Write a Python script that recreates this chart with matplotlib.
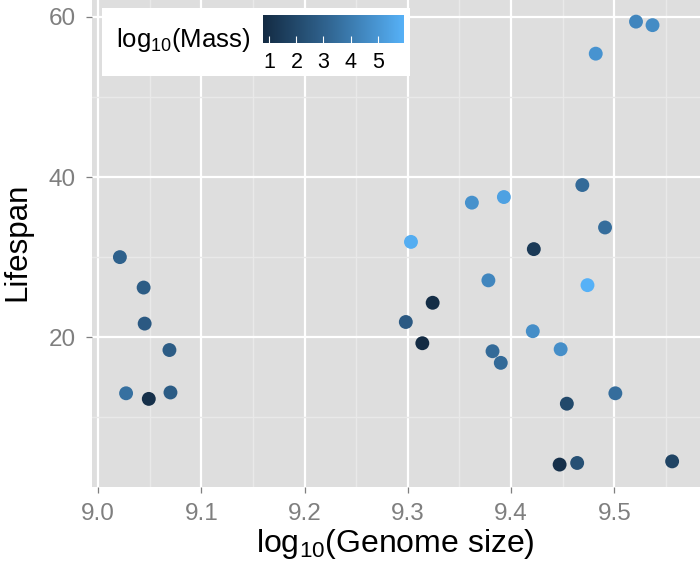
import numpy as np
import matplotlib
matplotlib.use("Agg")
from matplotlib import pyplot as plt
from matplotlib.colors import LinearSegmentedColormap, Normalize
from matplotlib.patches import Rectangle

# values
genome_size = [9.021, 9.044, 9.045, 9.069, 9.027, 9.049, 9.070,
               9.469, 9.362, 9.393, 9.491, 9.303, 9.422, 9.378, 9.474,
               9.324, 9.298, 9.421, 9.314, 9.382, 9.448, 9.390, 9.501,
               9.454, 9.447, 9.464, 9.556, 9.521, 9.537, 9.482]
lifespan = [30.0, 26.2, 21.7, 18.4, 13.0, 12.3, 13.1,
            39.0, 36.8, 37.5, 33.7, 31.9, 31.0, 27.1, 26.5,
            24.3, 21.9, 20.75, 19.25, 18.25, 18.5, 16.8, 13.0,
            11.7, 4.1, 4.3, 4.5, 59.4, 58.96, 55.4]
log_mass = [3.0, 2.8, 2.7, 2.8, 3.6, 1.0, 2.8,
            3.4, 4.8, 5.4, 3.5, 5.8, 1.4, 4.4, 5.98,
            0.9, 2.7, 4.7, 0.78, 3.4, 4.7, 3.4, 3.5,
            2.0, 1.0, 2.3, 1.8, 4.4, 4.6, 4.9]
mass_ticks = [1, 2, 3, 4, 5]
x_ticks = [9.0, 9.1, 9.2, 9.3, 9.4, 9.5]
y_ticks = [20, 40, 60]

plt.rcParams['font.family'] = ['Liberation Sans', 'DejaVu Sans']
plt.rcParams['mathtext.default'] = 'regular'

cmap = LinearSegmentedColormap.from_list("gg", ["#132B43", "#336A98", "#56B1F7"])
norm = Normalize(vmin=min(log_mass), vmax=max(log_mass))

W, H = 700, 574
fig = plt.figure(figsize=(W / 100, H / 100), dpi=100)
ax = fig.add_axes([91.5 / W, 1 - 487 / H, (W - 91.5) / W, 487 / H])
ax.set_facecolor("#DEDEDE")

ax.scatter(genome_size, lifespan, c=log_mass, cmap=cmap, norm=norm,
           s=100, edgecolors='none', zorder=3)

ax.set_xlim(8.9935, 9.583)
ax.set_ylim(1.3, 62.1)
ax.set_xticks(x_ticks, labels=[f"{v:.1f}" for v in x_ticks])
ax.set_yticks(y_ticks, labels=[str(v) for v in y_ticks])
ax.set_xticks(np.arange(9.05, 9.6, 0.1), minor=True)
ax.set_yticks([10, 30, 50], minor=True)
ax.grid(which='major', color='white', linewidth=1.6, zorder=0)
ax.grid(which='minor', color='#E9E9E9', linewidth=1.0, zorder=0)
ax.set_axisbelow(True)
for sp in ax.spines.values():
    sp.set_visible(False)
ax.tick_params(which='major', colors='#7F7F7F', labelsize=17.5, length=4.5,
               width=0.9, pad=7)
ax.tick_params(which='minor', length=0)

# axis titles
fig.text((91.5 + W) / 2 / W, 1 - 552 / H, r'$log_{10}$(Genome size)',
         fontsize=23, ha='center', va='baseline')
fig.text(17 / W, 1 - 242 / H, 'Lifespan', fontsize=22.5, rotation=90,
         ha='center', va='center')

# legend box inside the panel
fig.patches.append(Rectangle((102.3 / W, 1 - 76 / H), 307.7 / W, 67.7 / H,
                             transform=fig.transFigure, facecolor='white',
                             edgecolor='none', zorder=5))
fig.text(116.5 / W, 1 - 46.5 / H, r'$log_{10}$(Mass)', fontsize=18.5,
         va='baseline', ha='left', zorder=6)
cax = fig.add_axes([263.3 / W, 1 - 43.3 / H, 141 / W, 28.6 / H], zorder=6)
sm = matplotlib.cm.ScalarMappable(norm=norm, cmap=cmap)
cb = fig.colorbar(sm, cax=cax, orientation='horizontal', ticks=mass_ticks)
cb.outline.set_visible(False)
cb.ax.tick_params(direction='in', color='white', length=5, width=0.8,
                  labelsize=15.5, labelcolor='black', pad=6)

fig.savefig("out.png", dpi=100)
